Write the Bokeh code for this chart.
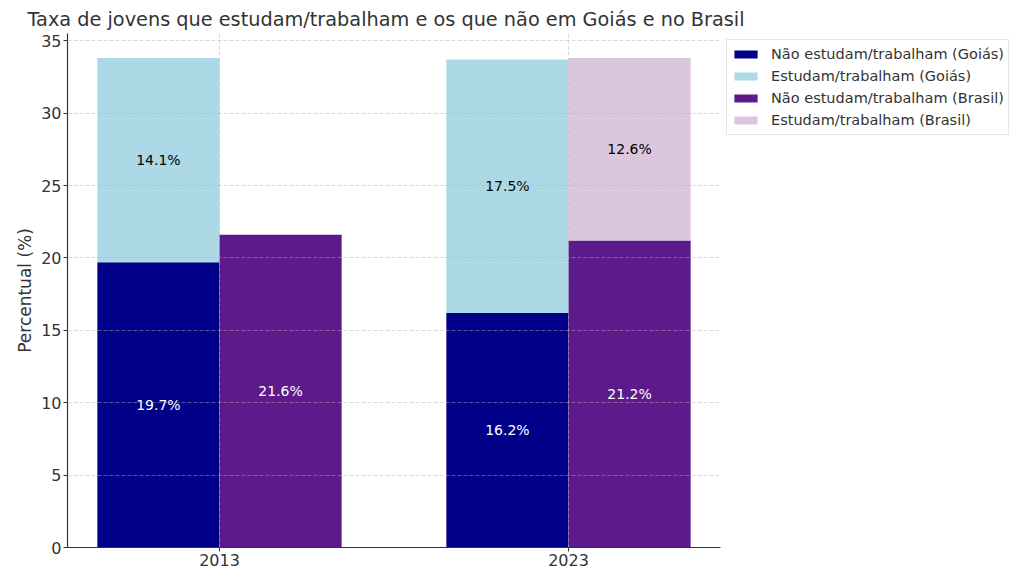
from bokeh.plotting import figure
from bokeh.models import ColumnDataSource, Range1d, FixedTicker, Legend, LegendItem, Title
from bokeh.transform import dodge
from bokeh.core.properties import value
from bokeh.embed import file_html
from bokeh.resources import INLINE

# ---- data ----
years = ["2013", "2023"]
nao_goias = [19.7, 16.2]
est_goias = [14.1, 17.5]
nao_brasil = [21.6, 21.2]
est_brasil = [0.0, 12.6]          # 2013: not shown in the reference
est_brasil_shown = [False, True]

title_text = "Taxa de jovens que estudam/trabalham e os que não em Goiás e no Brasil"
legend_labels = ["Não estudam/trabalham (Goiás)", "Estudam/trabalham (Goiás)",
                 "Não estudam/trabalham (Brasil)", "Estudam/trabalham (Brasil)"]
colors = ["#000088", "#ADD8E6", "#5D1A8B", "#DCC6DD"]

FONT = "DejaVu Sans"
TXT = "#333333"

idx = list(range(len(years)))
src = ColumnDataSource(dict(idx=idx, years=years,
                            nao_go=nao_goias, est_go=est_goias,
                            nao_br=nao_brasil, est_br=est_brasil))

p = figure(frame_width=653, frame_height=514, output_backend="svg", toolbar_location=None,
           x_range=Range1d(-0.4355, 1.4355), y_range=Range1d(0, 35.5),
           min_border_left=67, min_border_right=290, min_border_top=33, min_border_bottom=20)
p.outline_line_color = None

t = Title(text=title_text, text_font=FONT, text_font_size="19.3px", text_font_style="normal",
          text_color=TXT, align="left", offset=-40, standoff=6)
p.add_layout(t, "above")

r_go = p.vbar_stack(["nao_go", "est_go"], x=dodge("idx", -0.175), width=0.35, source=src,
                    color=colors[0:2], line_color=None)
r_br = p.vbar_stack(["nao_br", "est_br"], x=dodge("idx", 0.175), width=0.35, source=src,
                    color=colors[2:4], line_color=None)

# labels
lx, ly, lt, lc = [], [], [], []
for i in idx:
    lx += [i - 0.175, i - 0.175, i + 0.175]
    ly += [nao_goias[i] / 2, nao_goias[i] + est_goias[i] / 2, nao_brasil[i] / 2]
    lt += [f"{nao_goias[i]}%", f"{est_goias[i]}%", f"{nao_brasil[i]}%"]
    lc += ["white", "black", "white"]
    if est_brasil_shown[i]:
        lx.append(i + 0.175)
        ly.append(nao_brasil[i] + est_brasil[i] / 2)
        lt.append(f"{est_brasil[i]}%")
        lc.append("black")
lab = ColumnDataSource(dict(x=lx, y=ly, t=lt, c=lc))
p.text(x="x", y="y", text="t", text_color="c", source=lab, text_align="center",
       text_baseline="middle", text_font=value(FONT), text_font_size="14px")

# axes
p.xaxis.ticker = FixedTicker(ticks=idx)
p.xaxis.major_label_overrides = {i: y for i, y in zip(idx, years)}
p.yaxis.ticker = FixedTicker(ticks=[0, 5, 10, 15, 20, 25, 30, 35])
for ax in (p.xaxis, p.yaxis):
    ax.major_label_text_font = FONT
    ax.major_label_text_font_size = "16px"
    ax.major_label_text_color = TXT
    ax.axis_line_color = TXT
    ax.axis_line_width = 1.2
    ax.major_tick_line_color = TXT
    ax.major_tick_out = 4
    ax.major_tick_in = 0
    ax.minor_tick_line_color = None
    ax.major_label_standoff = 2
p.yaxis.axis_label = "Percentual (%)"
p.yaxis.axis_label_text_font = FONT
p.yaxis.axis_label_text_font_size = "17px"
p.yaxis.axis_label_text_font_style = "normal"
p.yaxis.axis_label_text_color = TXT
p.yaxis.axis_label_standoff = 3

for g in (p.xgrid, p.ygrid):
    g.grid_line_color = "#b0b0b0"
    g.grid_line_alpha = 0.6
    g.grid_line_dash = "4 2"
    g.grid_line_width = 0.8
    g.level = "guide"

items = [LegendItem(label=legend_labels[0], renderers=[r_go[0]]),
         LegendItem(label=legend_labels[1], renderers=[r_go[1]]),
         LegendItem(label=legend_labels[2], renderers=[r_br[0]]),
         LegendItem(label=legend_labels[3], renderers=[r_br[1]])]
leg = Legend(items=items, location="top_left", margin=6, padding=4, spacing=2,
             label_height=20, glyph_width=29, glyph_height=10, label_standoff=11,
             label_text_font=FONT, label_text_font_size="14.5px", label_text_color=TXT,
             border_line_color="#cccccc", border_line_width=1, background_fill_color="white")
p.add_layout(leg, "right")

open("out.html", "w").write(file_html(p, INLINE))
